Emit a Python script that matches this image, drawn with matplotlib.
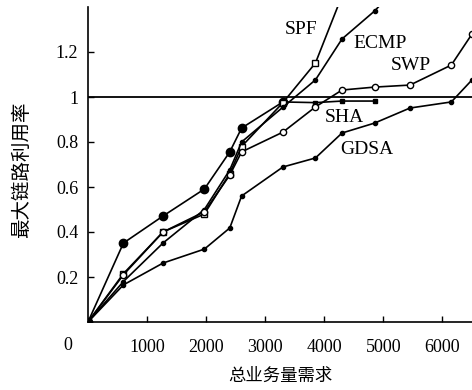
import matplotlib.pyplot as plt
import numpy as np

# traffic demand (x) shared by all curves
demand = [0, 600, 1270, 1970, 2400, 2600, 3300, 3850, 4300, 4850, 5450, 6150, 6500]

sha = [0, 0.351, 0.471, 0.591, 0.756, 0.862, 0.978, 0.975, 0.982, 0.982]
spf = [0, 0.215, 0.40, 0.48, 0.66, 0.78, 0.975, 1.151, 1.45]
ecmp = [0, 0.18, 0.351, 0.50, 0.676, 0.80, 0.955, 1.076, 1.258, 1.382, 1.55]
swp = [0, 0.21, 0.40, 0.49, 0.653, 0.756, 0.844, 0.956, 1.031, 1.044, 1.053, 1.142, 1.28]
gdsa = [0, 0.165, 0.262, 0.324, 0.418, 0.56, 0.689, 0.729, 0.84, 0.884, 0.951, 0.978, 1.076]

xticks = [1000, 2000, 3000, 4000, 5000, 6000]
yticks = [0.2, 0.4, 0.6, 0.8, 1.0, 1.2]
ytick_labels = ['0.2', '0.4', '0.6', '0.8', '1', '1.2']

serif = 'Liberation Serif'
cjk = ['Noto Sans CJK SC', 'DejaVu Sans']

fig = plt.figure(figsize=(4.72, 3.9), dpi=100)
ax = fig.add_axes([88 / 472, 1 - 322 / 390, 384 / 472, 315 / 390])

kw = dict(color='black', lw=1.2)
# SHA: big dots up to 3300, smaller ones on the flat part
ax.plot(demand[:len(sha)], sha, marker='o', ms=6, mfc='black', mec='black',
        markevery=list(range(7)), **kw)
ax.plot(demand[7:len(sha)], sha[7:], ls='none', marker='s', ms=3.5, color='black')
ax.plot(demand[:len(spf)], spf, marker='s', ms=4, mfc='white', mec='black', **kw)
ax.plot(demand[:len(ecmp)], ecmp, marker='o', ms=3, mfc='black', mec='black', **kw)
ax.plot(demand[:len(swp)], swp, marker='o', ms=4.5, mfc='white', mec='black', **kw)
ax.plot(demand[:len(gdsa)], gdsa, marker='o', ms=3, mfc='black', mec='black', **kw)

ax.axhline(1.0, color='black', lw=1.3)

ax.set_xlim(0, 6500)
ax.set_ylim(0, 1.4)
ax.set_xticks(xticks)
ax.set_xticklabels([str(t) for t in xticks], fontfamily=serif, fontsize=13)
ax.set_yticks(yticks)
ax.set_yticklabels(ytick_labels, fontfamily=serif, fontsize=13)
ax.tick_params(direction='in', length=4, width=1)
ax.tick_params(axis='x', pad=12)
ax.tick_params(axis='y', pad=7)
ax.spines['top'].set_visible(False)
ax.spines['right'].set_visible(False)
ax.spines['left'].set_linewidth(1.2)
ax.spines['bottom'].set_linewidth(1.2)

fig.text(68 / 472, 1 - 345 / 390, '0', fontfamily=serif, fontsize=13, ha='center', va='center')

for name, x, y in [('SPF', 301, 30), ('ECMP', 380, 43), ('SWP', 411, 65),
                   ('SHA', 344, 117), ('GDSA', 367, 149)]:
    fig.text(x / 472, 1 - y / 390, name, fontfamily=serif, fontsize=14, ha='center', va='center')

fig.text(22 / 472, 1 - 170 / 390, '最大链路利用率', family=cjk, fontsize=14,
         rotation=90, ha='center', va='center')
fig.text(280 / 472, 1 - 376 / 390, '总业务量需求', family=cjk, fontsize=12.5,
         ha='center', va='center')

fig.savefig('out.png', dpi=100)
